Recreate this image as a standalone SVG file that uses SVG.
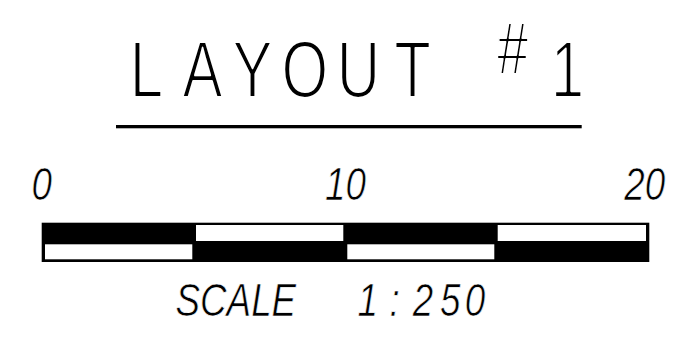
<svg xmlns="http://www.w3.org/2000/svg" width="691" height="345" viewBox="0 0 691 345">
<style>
.title{font-family:"Liberation Sans",Arial,sans-serif;font-size:80px;fill:#000;stroke:#fff;stroke-width:2.2;stroke-linejoin:round}
.hash{font-size:74px;stroke-width:1.8}
.lbl{font-family:"Liberation Sans",Arial,sans-serif;font-style:italic;font-size:46px;fill:#000;stroke:#fff;stroke-width:0.7;stroke-linejoin:round}
.blk{fill:#000}
.wht{fill:#fff}
</style>
<rect width="691" height="345" fill="#fff"/>
<g id="title">
<text class="title" transform="scale(0.75,1)" x="172.9 243.4 310.1 375.5 449.0 525.6 600" y="97">LAYOUT <tspan class="hash" x="663" y="74">#</tspan><tspan x="734.4" y="97">1</tspan></text>
<rect class="blk" x="116" y="125" width="465.7" height="3.3"/>
</g>
<g id="scale-bar">
<rect class="blk" x="41.7" y="222.7" width="607.6" height="39.3"/>
<rect class="wht" x="45" y="244.3" width="147.3" height="15"/>
<rect class="wht" x="196" y="225" width="147.3" height="16"/>
<rect class="wht" x="347.3" y="244.3" width="147" height="15"/>
<rect class="wht" x="497.7" y="225" width="148.3" height="16"/>
</g>
<g id="labels" transform="scale(0.8,1)">
<text class="lbl" x="52.1" y="200" text-anchor="middle">0</text>
<text class="lbl" x="431.9" y="200" text-anchor="middle">10</text>
<text class="lbl" x="806" y="200" text-anchor="middle">20</text>
<text class="lbl" x="219.4" y="316.5">SCALE <tspan x="446.9">1</tspan><tspan x="487">:</tspan><tspan x="516 550 581">250</tspan></text>
</g>
</svg>
